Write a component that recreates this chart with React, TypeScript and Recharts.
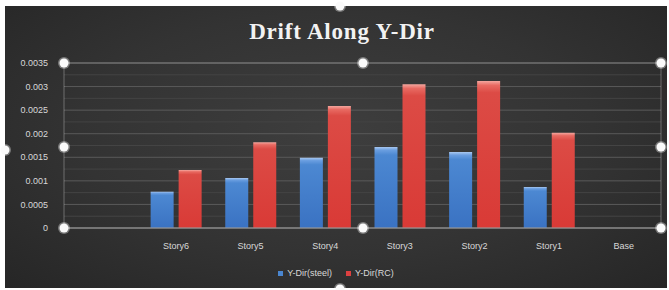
import { BarChart, Bar, XAxis, YAxis, CartesianGrid, Legend } from 'recharts';

/* ------------------------------------------------------------------ */
/*  Data                                                               */
/* ------------------------------------------------------------------ */

const STORIES = ['', 'Story6', 'Story5', 'Story4', 'Story3', 'Story2', 'Story1', 'Base'];
const STEEL = [null, 0.00077, 0.00106, 0.00149, 0.00172, 0.00161, 0.00087, 0];
const RC = [null, 0.00123, 0.00182, 0.00259, 0.00305, 0.00312, 0.00202, 0];
const Y_TICKS = [0, 0.0005, 0.001, 0.0015, 0.002, 0.0025, 0.003, 0.0035];
const MINOR_TICKS = [0.00025, 0.00075, 0.00125, 0.00175, 0.00225, 0.00275, 0.00325];

const data = STORIES.map((story, i) => ({ story, steel: STEEL[i], rc: RC[i] }));

const TEXT = '#d8d8d8';
const FONT = '"Liberation Sans", Arial, sans-serif';

// excel selection handles around the plot area (decoration only)
const HANDLES = [
  [64, 63], [363, 63], [661, 63],
  [64, 147], [661, 147],
  [64, 228], [363, 228], [661, 228],
  [340, 6], [5, 150], [340, 289],
];

function LegendContent() {
  const items = [
    { label: 'Y-Dir(steel)', color: '#4a86d0' },
    { label: 'Y-Dir(RC)', color: '#dc4040' },
  ];
  return (
    <div style={{ display: 'flex', justifyContent: 'center', gap: 14, fontFamily: FONT, fontSize: 9, color: TEXT, paddingTop: 10, paddingLeft: 6 }}>
      {items.map((it) => (
        <span key={it.label} style={{ display: 'flex', alignItems: 'center', gap: 4 }}>
          <span style={{ width: 5, height: 5, background: it.color, display: 'inline-block' }} />
          {it.label}
        </span>
      ))}
    </div>
  );
}

export default function App() {
  return (
    <div style={{ position: 'fixed', left: 0, top: 0, width: 669, height: 290, background: '#fff' }}>
      <div
        style={{
          position: 'absolute',
          left: 5,
          top: 6,
          width: 662,
          height: 282,
          background: 'radial-gradient(ellipse at 50% 45%, #3e3e3e 0%, #333 55%, #262626 100%)',
        }}
      >
        <div
          style={{
            position: 'absolute',
            left: 0,
            right: 0,
            top: 13,
            textAlign: 'center',
            fontFamily: '"Liberation Serif", "DejaVu Serif", serif',
            fontWeight: 'bold',
            fontSize: 23,
            color: '#f2f2f2',
            letterSpacing: 0.8,
            paddingLeft: 12,
          }}
        >
          Drift Along Y-Dir
        </div>
        <BarChart
          width={662}
          height={282}
          data={data}
          margin={{ top: 57, right: 6, left: 0, bottom: 0 }}
          barCategoryGap="16%"
          barGap={5}
        >
          <defs>
            <linearGradient id="blueGrad" x1="0" y1="0" x2="0" y2="1">
              <stop offset="0%" stopColor="#a9c8f0" />
              <stop offset="4%" stopColor="#6a9ee0" />
              <stop offset="10%" stopColor="#4c88d2" />
              <stop offset="100%" stopColor="#3a72c2" />
            </linearGradient>
            <linearGradient id="redGrad" x1="0" y1="0" x2="0" y2="1">
              <stop offset="0%" stopColor="#f4a8a0" />
              <stop offset="3%" stopColor="#e86a62" />
              <stop offset="8%" stopColor="#dc4b45" />
              <stop offset="100%" stopColor="#d93a36" />
            </linearGradient>
          </defs>
          <CartesianGrid vertical={false} stroke="#444" horizontalValues={MINOR_TICKS} />
          <CartesianGrid vertical={false} stroke="#5a5a5a" />
          <XAxis
            dataKey="story"
            height={30}
            tickLine={false}
            axisLine={{ stroke: '#777' }}
            tickMargin={9}
            tick={{ fill: TEXT, fontSize: 9, fontFamily: FONT }}
            interval={0}
          />
          <YAxis
            width={59}
            domain={[0, 0.0035]}
            ticks={Y_TICKS}
            tickLine={false}
            axisLine={false}
            tickMargin={10}
            tick={{ fill: TEXT, fontSize: 9, fontFamily: FONT }}
            tickFormatter={(v: number) => String(parseFloat(v.toFixed(4)))}
          />
          <Legend verticalAlign="bottom" height={30} content={<LegendContent />} />
          <Bar dataKey="steel" name="Y-Dir(steel)" fill="url(#blueGrad)" barSize={23} isAnimationActive={false} />
          <Bar dataKey="rc" name="Y-Dir(RC)" fill="url(#redGrad)" barSize={23} isAnimationActive={false} />
        </BarChart>
      </div>
      <svg width={669} height={290} style={{ position: 'absolute', left: 0, top: 0, pointerEvents: 'none' }}>
        <rect x={64} y={63} width={597} height={165} fill="none" stroke="rgba(255,255,255,0.3)" strokeWidth={1} />
        {HANDLES.map(([x, y], i) => (
          <g key={i}>
            <circle cx={x} cy={y} r={6} fill="rgba(255,255,255,0.35)" />
            <circle cx={x} cy={y} r={4.5} fill="#fafafa" />
          </g>
        ))}
      </svg>
    </div>
  );
}
